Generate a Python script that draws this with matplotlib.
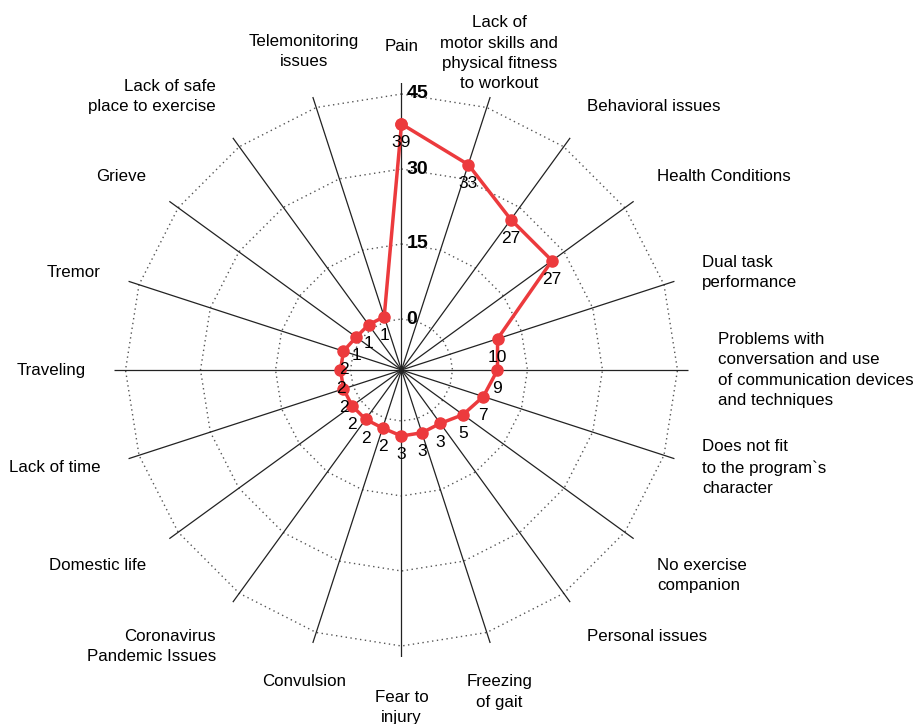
import numpy as np
import matplotlib
matplotlib.use("Agg")
import matplotlib.pyplot as plt

categories = [
    "Pain",
    "Lack of\nmotor skills and\nphysical fitness\nto workout",
    "Behavioral issues",
    "Health Conditions",
    "Dual task\nperformance",
    "Problems with\nconversation and use\nof communication devices\nand techniques",
    "Does not fit\nto the program`s\ncharacter",
    "No exercise\ncompanion",
    "Personal issues",
    "Freezing\nof gait",
    "Fear to\ninjury",
    "Convulsion",
    "Coronavirus\nPandemic Issues",
    "Domestic life",
    "Lack of time",
    "Traveling",
    "Tremor",
    "Grieve",
    "Lack of safe\nplace to exercise",
    "Telemonitoring\nissues",
]
values = [39, 33, 27, 27, 10, 9, 7, 5, 3, 3, 3, 2, 2, 2, 2, 2, 2, 1, 1, 1]
radial_ticks = [0, 15, 30, 45]

plt.rcParams['font.family'] = ['Liberation Sans', 'DejaVu Sans']

W, H = 914, 724
fig = plt.figure(figsize=(W / 100, H / 100), dpi=100)
cx, cy = 401.5, 370.0      # centre in pixels (from top-left)
R = 287.0                  # spoke length in pixels
ax = fig.add_axes([(cx - R) / W, (H - cy - R) / H, 2 * R / W, 2 * R / H], polar=True)

px_per_unit = 5.0
offset = 51.0 / px_per_unit      # value 0 sits on an inner ring
rmax = R / px_per_unit

n = len(categories)
theta = np.arange(n) * 2 * np.pi / n
ax.set_theta_zero_location("N")
ax.set_theta_direction(-1)
ax.set_ylim(0, rmax)

# spokes
ax.set_xticks(theta)
ax.set_xticklabels([])
ax.xaxis.grid(True, color="#222222", linewidth=0.9)
ax.set_yticks([])
ax.yaxis.grid(False)
ax.spines['polar'].set_visible(False)

# dotted polygon rings
th_closed = np.append(theta, theta[0])
for t in radial_ticks:
    ax.plot(th_closed, [t + offset] * (n + 1), color="#555555",
            linestyle=(0, (1, 2.5)), linewidth=1.0, zorder=1)
    ax.annotate(str(t), (0, t + offset), xytext=(3.5, 0), textcoords="offset points",
                ha="left", va="center", fontsize=14, fontweight="bold", zorder=5)

# data
vals = np.array(values, dtype=float)
r_closed = np.append(vals, vals[0]) + offset
ax.plot(th_closed, r_closed, color="#EC3A3D", linewidth=2.5, marker="o",
        markersize=8, zorder=4, clip_on=False)
for t, v in zip(theta, values):
    ax.annotate(str(v), (t, v + offset), xytext=(0, -13.5), textcoords="offset points",
                ha="center", va="center", fontsize=12.5, zorder=6)

# category labels
for t, lab in zip(theta, categories):
    s, c = np.sin(t), np.cos(t)
    if abs(s) < 0.35:
        ha = "center"
    elif s > 0:
        ha = "left"
    else:
        ha = "right"
    nlines = lab.count("\n") + 1
    rx = 316.0
    if nlines > 3:
        va, ry = "center", 333.0
    elif c > 0.4:
        va, ry = "bottom", 316.0
    elif c < -0.4:
        va, ry = "top", 320.0
    else:
        va, ry = "center", 316.0
    dx, dy = rx * s, ry * c
    ax.text(0.5 + dx / (2 * R), 0.5 + dy / (2 * R), lab, transform=ax.transAxes,
            ha=ha, va=va, multialignment=ha, fontsize=12.2, linespacing=1.45)

fig.savefig("out.png", dpi=100)
